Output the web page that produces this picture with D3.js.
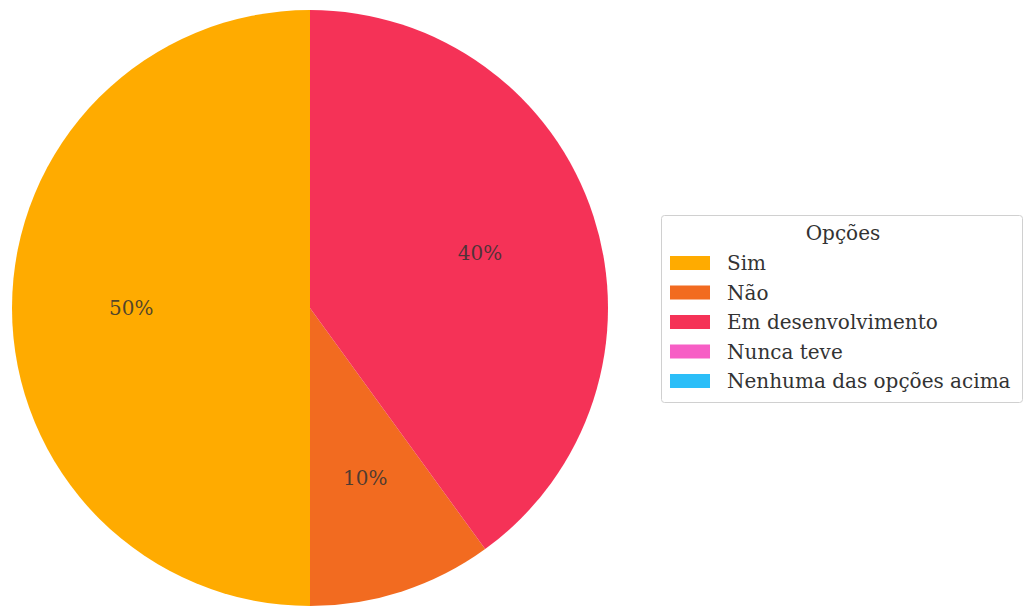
<!DOCTYPE html>
<html>
<head>
<meta charset="utf-8">
<script src="https://cdn.jsdelivr.net/npm/d3@7.9.0/dist/d3.min.js"></script>
<style>
  body { margin: 0; background: #fff; }
  svg { display: block; font-family: "DejaVu Serif", serif; }
</style>
</head>
<body>
<div id="chart"></div>
<script>
const categories = ["Sim", "Não", "Em desenvolvimento", "Nunca teve", "Nenhuma das opções acima"];
const values = [50, 10, 40, 0, 0];
const colors = ["#ffab00", "#f26b20", "#f53257", "#f75ec5", "#2bbef8"];
const legendTitle = "Opções";

const width = 1024;
const height = 606;
const cx = 310, cy = 308, radius = 298;

const svg = d3.select("#chart")
  .append("svg")
  .attr("width", width)
  .attr("height", height);

const data = categories.map((c, i) => ({ name: c, value: values[i], color: colors[i] }));

// matplotlib style: start at top, go counter-clockwise
const pie = d3.pie()
  .value(d => d.value)
  .sort(null)
  .startAngle(0)
  .endAngle(-2 * Math.PI);

const arcs = pie(data);

const arc = d3.arc().innerRadius(0).outerRadius(radius);
const labelArc = d3.arc().innerRadius(radius * 0.6).outerRadius(radius * 0.6);

const g = svg.append("g").attr("transform", `translate(${cx},${cy})`);

g.selectAll("path")
  .data(arcs.filter(d => d.value > 0))
  .join("path")
  .attr("d", arc)
  .attr("fill", d => d.data.color);

g.selectAll("text")
  .data(arcs.filter(d => d.value > 0))
  .join("text")
  .attr("transform", d => `translate(${labelArc.centroid(d)})`)
  .attr("text-anchor", "middle")
  .attr("dominant-baseline", "central")
  .attr("fill", "#333")
  .attr("fill-opacity", 0.85)
  .style("font-size", "20px")
  .text(d => `${d.data.value}%`);

// Legend
const legend = svg.append("g").attr("transform", "translate(661,215)");

legend.append("rect")
  .attr("x", 0.5).attr("y", 0.5)
  .attr("width", 361).attr("height", 187)
  .attr("rx", 3)
  .attr("fill", "#fff")
  .attr("stroke", "#d0d0d0");

legend.append("text")
  .attr("x", 182).attr("y", 18)
  .attr("text-anchor", "middle")
  .attr("dominant-baseline", "central")
  .attr("fill", "#333")
  .style("font-size", "20px")
  .text(legendTitle);

const rowY = d3.scalePoint().domain(categories).range([48, 166]);

const items = legend.selectAll("g.item")
  .data(data)
  .join("g")
  .attr("class", "item")
  .attr("transform", d => `translate(0,${rowY(d.name)})`);

items.append("rect")
  .attr("x", 9).attr("y", -7)
  .attr("width", 40).attr("height", 14)
  .attr("fill", d => d.color);

items.append("text")
  .attr("x", 66).attr("y", 0)
  .attr("dominant-baseline", "central")
  .attr("fill", "#333")
  .style("font-size", "20px")
  .text(d => d.name);
</script>
</body>
</html>
